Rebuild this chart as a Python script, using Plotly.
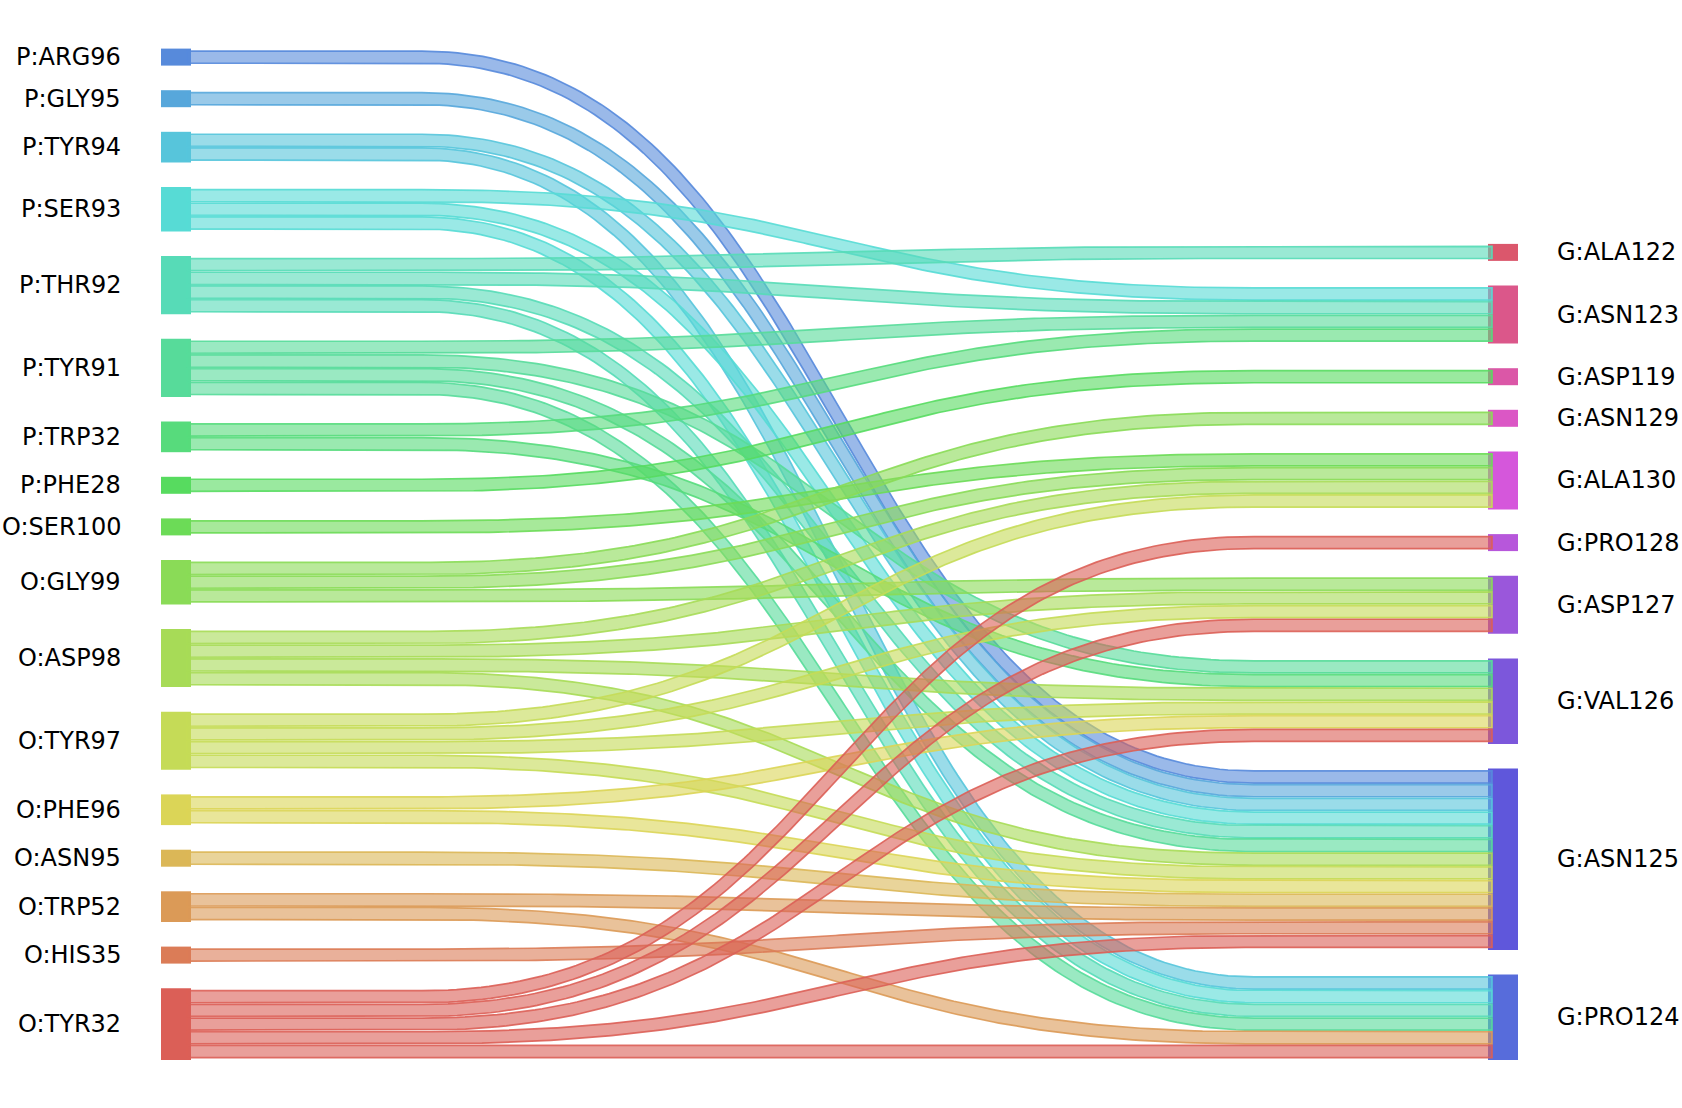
import colorsys
import numpy as np
import plotly.graph_objects as go

# ---------------- data ----------------
left_nodes = ["P:ARG96", "P:GLY95", "P:TYR94", "P:SER93", "P:THR92", "P:TYR91",
              "P:TRP32", "P:PHE28", "O:SER100", "O:GLY99", "O:ASP98", "O:TYR97",
              "O:PHE96", "O:ASN95", "O:TRP52", "O:HIS35", "O:TYR32"]
right_nodes = ["G:ALA122", "G:ASN123", "G:ASP119", "G:ASN129", "G:ALA130",
               "G:PRO128", "G:ASP127", "G:VAL126", "G:ASN125", "G:PRO124"]

link_source = ["P:ARG96", "P:GLY95",
               "P:TYR94", "P:TYR94",
               "P:SER93", "P:SER93", "P:SER93",
               "P:THR92", "P:THR92", "P:THR92", "P:THR92",
               "P:TYR91", "P:TYR91", "P:TYR91", "P:TYR91",
               "P:TRP32", "P:TRP32",
               "P:PHE28", "O:SER100",
               "O:GLY99", "O:GLY99", "O:GLY99",
               "O:ASP98", "O:ASP98", "O:ASP98", "O:ASP98",
               "O:TYR97", "O:TYR97", "O:TYR97", "O:TYR97",
               "O:PHE96", "O:PHE96",
               "O:ASN95",
               "O:TRP52", "O:TRP52",
               "O:HIS35",
               "O:TYR32", "O:TYR32", "O:TYR32", "O:TYR32", "O:TYR32"]
link_target = ["G:ASN125", "G:ASN125",
               "G:ASN125", "G:PRO124",
               "G:ASN123", "G:ASN125", "G:PRO124",
               "G:ALA122", "G:ASN123", "G:ASN125", "G:PRO124",
               "G:ASN123", "G:VAL126", "G:ASN125", "G:PRO124",
               "G:ASN123", "G:VAL126",
               "G:ASP119", "G:ALA130",
               "G:ASN129", "G:ALA130", "G:ASP127",
               "G:ALA130", "G:ASP127", "G:VAL126", "G:ASN125",
               "G:ALA130", "G:ASP127", "G:VAL126", "G:ASN125",
               "G:VAL126", "G:ASN125",
               "G:ASN125",
               "G:ASN125", "G:PRO124",
               "G:ASN125",
               "G:PRO128", "G:ASP127", "G:VAL126", "G:ASN125", "G:PRO124"]
link_count = [1] * len(link_source)

# palette order (seaborn-like hls palette over all nodes)
palette_order = left_nodes[::-1] + right_nodes[::-1]

# ---------------- style / layout constants ----------------
W, H = 1682, 1108
UNIT = 13.7          # px per strand
PAD = 1.65           # node padding
GAP = 24.6           # gap between nodes
BOTTOM = 1060.0
LX0, LX1 = 161, 191
RX0, RX1 = 1488, 1518
SX0, SX1 = 187, 1492
BX0, BX1 = 422, 1254
FONT = "DejaVu Sans"


def hls_color(i, n):
    h = (0.01 + i / n) % 1.0
    r, g, b = colorsys.hls_to_rgb(h, 0.6, 0.65)
    return int(round(r * 255)), int(round(g * 255)), int(round(b * 255))


n_all = len(palette_order)
node_rgb = {name: hls_color(i, n_all) for i, name in enumerate(palette_order)}

# strands per node
strands_left = {n: 0 for n in left_nodes}
strands_right = {n: 0 for n in right_nodes}
for s, t, c in zip(link_source, link_target, link_count):
    strands_left[s] += c
    strands_right[t] += c


def stack(nodes, counts):
    total = sum(counts[n] * UNIT + 2 * PAD for n in nodes) + GAP * (len(nodes) - 1)
    top = BOTTOM - total
    pos = {}
    for n in nodes:
        h = counts[n] * UNIT + 2 * PAD
        pos[n] = (top, top + h)
        top += h + GAP
    return pos


left_pos = stack(left_nodes, strands_left)
right_pos = stack(right_nodes, strands_right)

# strand slots
strands = []
for s, t, c in zip(link_source, link_target, link_count):
    for _ in range(c):
        strands.append((s, t))

left_sorted = sorted(strands, key=lambda st: (left_nodes.index(st[0]), right_nodes.index(st[1])))
right_sorted = sorted(strands, key=lambda st: (right_nodes.index(st[1]), left_nodes.index(st[0])))

left_y = {}
cnt = {}
for st in left_sorted:
    k = cnt.get(st[0], 0)
    cnt[st[0]] = k + 1
    left_y.setdefault(st, []).append(left_pos[st[0]][0] + PAD + UNIT * (k + 0.5))
right_y = {}
cnt = {}
for st in right_sorted:
    k = cnt.get(st[1], 0)
    cnt[st[1]] = k + 1
    right_y.setdefault(st, []).append(right_pos[st[1]][0] + PAD + UNIT * (k + 0.5))

fig = go.Figure()

# nodes (below strands)
for name in left_nodes:
    y0, y1 = left_pos[name]
    r, g, b = node_rgb[name]
    fig.add_trace(go.Scatter(x=[LX0, LX1, LX1, LX0, LX0], y=[y0, y0, y1, y1, y0],
                             mode="lines", fill="toself", fillcolor=f"rgb({r},{g},{b})",
                             line=dict(width=0), hoverinfo="skip", showlegend=False))
for name in right_nodes:
    y0, y1 = right_pos[name]
    r, g, b = node_rgb[name]
    fig.add_trace(go.Scatter(x=[RX0, RX1, RX1, RX0, RX0], y=[y0, y0, y1, y1, y0],
                             mode="lines", fill="toself", fillcolor=f"rgb({r},{g},{b})",
                             line=dict(width=0), hoverinfo="skip", showlegend=False))


def strand_polygon(ya, yb, half):
    t = np.linspace(0, 1, 140)
    xm = (BX0 + BX1) / 2
    bx = (1 - t) ** 3 * BX0 + 3 * (1 - t) ** 2 * t * xm + 3 * (1 - t) * t ** 2 * xm + t ** 3 * BX1
    by = (1 - t) ** 3 * ya + 3 * (1 - t) ** 2 * t * ya + 3 * (1 - t) * t ** 2 * yb + t ** 3 * yb
    dx = 3 * (1 - t) ** 2 * (xm - BX0) + 3 * t ** 2 * (BX1 - xm)
    dy = 6 * (1 - t) * t * (yb - ya)
    nrm = np.hypot(dx, dy)
    nx, ny = -dy / nrm, dx / nrm
    cx = np.concatenate([[SX0], bx, [SX1]])
    cy = np.concatenate([[ya], by, [yb]])
    nxa = np.concatenate([[0.0], nx, [0.0]])
    nya = np.concatenate([[1.0], ny, [1.0]])
    tx, ty = cx + half * nxa, cy + half * nya
    ux, uy = cx - half * nxa, cy - half * nya
    px = np.concatenate([tx, ux[::-1], tx[:1]])
    py = np.concatenate([ty, uy[::-1], ty[:1]])
    return px, py


left_iter = {k: list(v) for k, v in left_y.items()}
right_iter = {k: list(v) for k, v in right_y.items()}
for st in left_sorted:
    ya = left_iter[st].pop(0)
    yb = right_iter[st].pop(0)
    px, py = strand_polygon(ya, yb, UNIT / 2 - 0.8)
    r, g, b = node_rgb[st[0]]
    fig.add_trace(go.Scatter(x=px, y=py, mode="lines", fill="toself",
                             fillcolor=f"rgba({r},{g},{b},0.6)",
                             line=dict(color=f"rgba({r},{g},{b},0.9)", width=1.7),
                             hoverinfo="skip", showlegend=False))

annotations = []
for name in left_nodes:
    y0, y1 = left_pos[name]
    annotations.append(dict(x=123, y=(y0 + y1) / 2, xref="x", yref="y", text=name,
                            showarrow=False, xanchor="right", yanchor="middle",
                            font=dict(family=FONT, size=24, color="black")))
for name in right_nodes:
    y0, y1 = right_pos[name]
    annotations.append(dict(x=1555, y=(y0 + y1) / 2, xref="x", yref="y", text=name,
                            showarrow=False, xanchor="left", yanchor="middle",
                            font=dict(family=FONT, size=24, color="black")))

fig.update_layout(
    width=W, height=H,
    margin=dict(l=0, r=0, t=0, b=0, pad=0),
    paper_bgcolor="white", plot_bgcolor="white",
    xaxis=dict(range=[0, W], visible=False, fixedrange=True),
    yaxis=dict(range=[H, 0], visible=False, fixedrange=True),
    annotations=annotations,
    showlegend=False,
)

fig.write_html("out.html", config={"displayModeBar": False},
               post_script="document.body.style.margin='0';document.body.style.overflow='hidden';")
